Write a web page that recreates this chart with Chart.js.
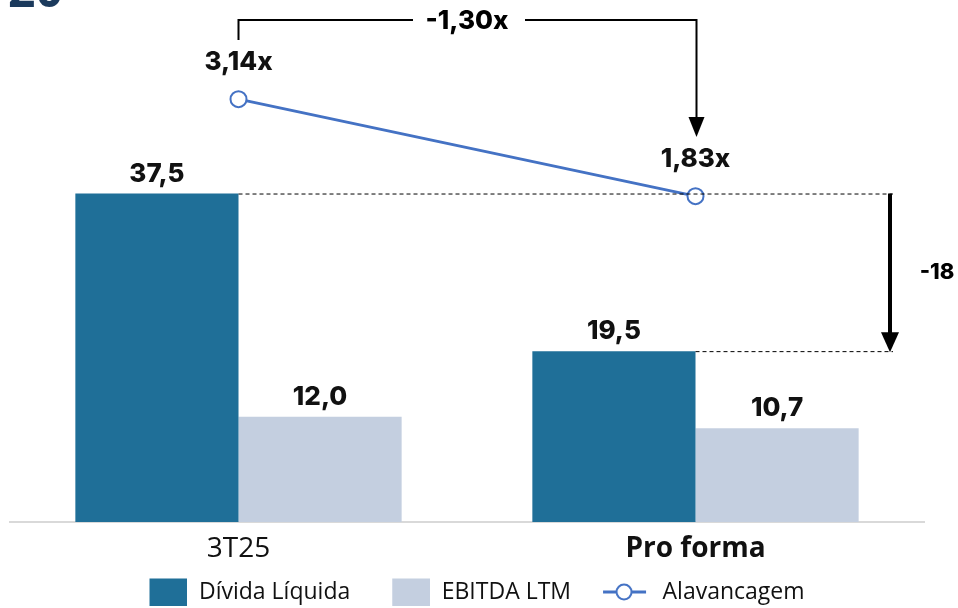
<!DOCTYPE html>
<html>
<head>
<meta charset="utf-8">
<script src="https://cdn.jsdelivr.net/npm/chart.js@4/dist/chart.umd.min.js"></script>
<style>
html,body{margin:0;padding:0;background:#fff;}
#wrap{position:relative;width:958px;height:608px;}
</style>
</head>
<body>
<div id="wrap"><canvas id="c" width="958" height="608"></canvas></div>
<script>
// ---- data ----
const categories = ['3T25', 'Pro forma'];
const dividaLiquida = [37.5, 19.5];
const ebitdaLTM = [12.0, 10.7];
const alavancagem = [3.14, 1.83];
const seriesNames = ['Dívida Líquida', 'EBITDA LTM', 'Alavancagem'];
const leverageDeltaLabel = '-1,30x';
const debtDeltaLabel = '-18';

const C_DARK = '#1F6F98';
const C_LIGHT = '#C4CFE0';
const C_LINE = '#4472C4';
const LABEL_FONT = '800 26px Inter, "Open Sans", sans-serif';
const LEG_W = 78;

function fmt(v, d) { return v.toFixed(d).replace('.', ','); }

function boxImg(color) {
  const cv = document.createElement('canvas');
  cv.width = LEG_W; cv.height = 28;
  const g = cv.getContext('2d');
  g.fillStyle = color; g.fillRect(LEG_W - 38, 0, 38, 28);
  return cv;
}
function lineImg() {
  const cv = document.createElement('canvas');
  cv.width = LEG_W; cv.height = 20;
  const g = cv.getContext('2d');
  g.strokeStyle = C_LINE; g.lineWidth = 3;
  g.beginPath(); g.moveTo(LEG_W - 48, 10); g.lineTo(LEG_W - 5, 10); g.stroke();
  g.beginPath(); g.arc(LEG_W - 27, 10, 7.5, 0, Math.PI * 2);
  g.fillStyle = '#fff'; g.fill(); g.lineWidth = 2; g.stroke();
  return cv;
}

const legendNudge = {
  id: 'legendNudge',
  afterLayout(chart) {
    const lg = chart.legend;
    if (!lg) return;
    lg.left -= 10; lg.right -= 10;
    lg.top += 2; lg.bottom += 2;
  }
};

const annot = {
  id: 'annot',
  afterDatasetsDraw(chart) {
    const ctx = chart.ctx;
    const m0 = chart.getDatasetMeta(0).data;
    const m1 = chart.getDatasetMeta(1).data;
    const m2 = chart.getDatasetMeta(2).data;
    ctx.save();
    // bar value labels
    ctx.fillStyle = '#111';
    ctx.font = LABEL_FONT;
    ctx.textAlign = 'center';
    ctx.textBaseline = 'alphabetic';
    [[m0, dividaLiquida], [m1, ebitdaLTM]].forEach(([els, vals]) => {
      els.forEach((el, i) => ctx.fillText(fmt(vals[i], 1), el.x, el.y - 12));
    });
    // line labels
    m2.forEach((el, i) => ctx.fillText(fmt(alavancagem[i], 2) + 'x', el.x, el.y - 29));

    // dashed guide lines
    const rightX = 893;
    ctx.strokeStyle = '#000'; ctx.lineWidth = 1; ctx.setLineDash([4, 3]);
    ctx.beginPath();
    ctx.moveTo(m0[0].x + m0[0].width / 2, m0[0].y + 0.5); ctx.lineTo(rightX, m0[0].y + 0.5);
    ctx.moveTo(m0[1].x + m0[1].width / 2, m0[1].y + 0.5); ctx.lineTo(rightX, m0[1].y + 0.5);
    ctx.stroke();
    ctx.setLineDash([]);

    // thick down arrow (debt delta)
    const ax = 890;
    ctx.lineWidth = 4; ctx.fillStyle = '#000';
    ctx.beginPath(); ctx.moveTo(ax, m0[0].y); ctx.lineTo(ax, m0[1].y - 16); ctx.stroke();
    ctx.beginPath();
    ctx.moveTo(ax - 9, m0[1].y - 19); ctx.lineTo(ax + 9, m0[1].y - 19); ctx.lineTo(ax, m0[1].y + 1); ctx.closePath(); ctx.fill();
    ctx.font = '800 22px Inter, "Open Sans", sans-serif';
    ctx.textAlign = 'center'; ctx.textBaseline = 'middle';
    ctx.fillText(debtDeltaLabel, 937, (m0[0].y + m0[1].y) / 2);

    // bracket for leverage delta
    const lx = m2[0].x, rx = m2[1].x + 1, by = 20;
    ctx.lineWidth = 2;
    ctx.beginPath();
    ctx.moveTo(lx, 40); ctx.lineTo(lx, by); ctx.lineTo(413, by);
    ctx.moveTo(525, by); ctx.lineTo(rx, by); ctx.lineTo(rx, 120);
    ctx.stroke();
    ctx.beginPath();
    ctx.moveTo(rx - 8, 117); ctx.lineTo(rx + 8, 117); ctx.lineTo(rx, 137); ctx.closePath(); ctx.fill();
    ctx.font = LABEL_FONT;
    ctx.fillText(leverageDeltaLabel, 467, by + 1);

    // clipped heading at the top-left
    ctx.fillStyle = '#1B3A5C';
    ctx.font = 'bold 48px "Open Sans", sans-serif';
    ctx.textAlign = 'left'; ctx.textBaseline = 'alphabetic';
    ctx.fillText('20', 8, 7);
    ctx.restore();
  }
};

new Chart(document.getElementById('c'), {
  data: {
    labels: categories,
    datasets: [
      { type: 'bar', label: seriesNames[0], data: dividaLiquida, backgroundColor: C_DARK, yAxisID: 'y', order: 2,
        categoryPercentage: 0.714, barPercentage: 1.0 },
      { type: 'bar', label: seriesNames[1], data: ebitdaLTM, backgroundColor: C_LIGHT, yAxisID: 'y', order: 2,
        categoryPercentage: 0.714, barPercentage: 1.0 },
      { type: 'line', label: seriesNames[2], data: alavancagem, yAxisID: 'y2', order: 1,
        borderColor: C_LINE, borderWidth: 3, pointRadius: 8, pointBackgroundColor: '#fff',
        pointBorderColor: C_LINE, pointBorderWidth: 2, tension: 0 }
    ]
  },
  options: {
    responsive: false,
    animation: false,
    events: [],
    layout: { padding: { left: 10, right: 34, top: 14, bottom: -3.5 } },
    scales: {
      x: {
        grid: { display: false, drawTicks: false },
        border: { display: true, color: '#D9D9D9', width: 2 },
        ticks: {
          color: '#111', padding: 10.5,
          font: (c) => ({ family: '"Open Sans", sans-serif', size: 28, lineHeight: 1.2, weight: c.index === 1 ? 'bold' : 'normal' })
        }
      },
      y: { display: false, min: 0, max: 58 },
      y2: { display: false, min: -2.57, max: 4.29 }
    },
    plugins: {
      tooltip: { enabled: false },
      legend: {
        position: 'bottom',
        labels: {
          usePointStyle: true,
          pointStyleWidth: LEG_W,
          boxHeight: 23,
          padding: 2,
          color: '#111',
          font: { family: '"Open Sans", sans-serif', size: 23 },
          generateLabels: (chart) => [
            { text: seriesNames[0], pointStyle: boxImg(C_DARK), datasetIndex: 0, lineWidth: 0, fontColor: '#111' },
            { text: seriesNames[1], pointStyle: boxImg(C_LIGHT), datasetIndex: 1, lineWidth: 0, fontColor: '#111' },
            { text: seriesNames[2], pointStyle: lineImg(), datasetIndex: 2, lineWidth: 0, fontColor: '#111' }
          ]
        }
      }
    }
  },
  plugins: [annot, legendNudge]
});
</script>
</body>
</html>
